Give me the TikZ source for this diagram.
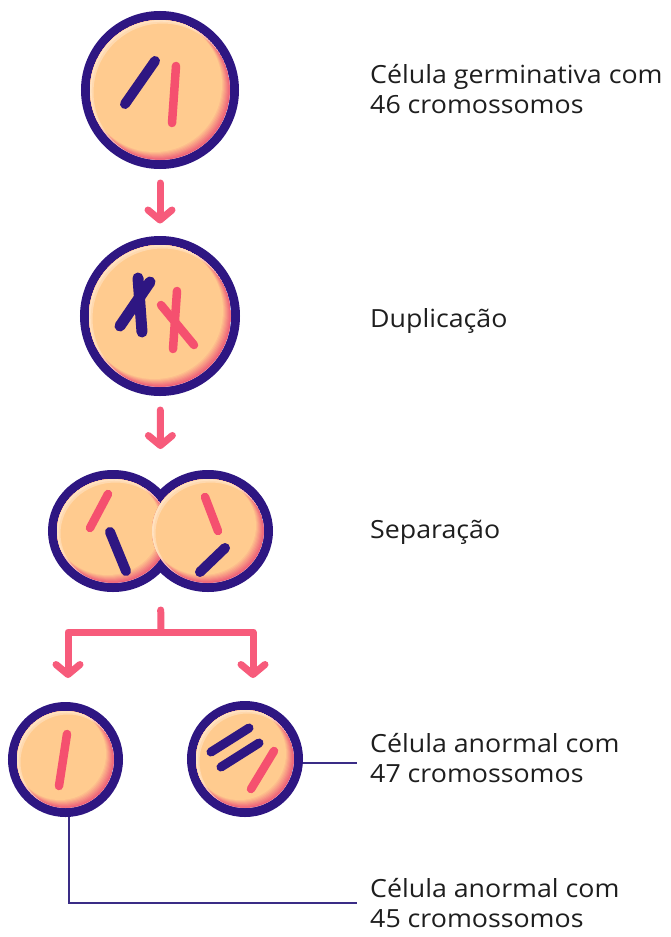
\documentclass[tikz,border=0pt]{standalone}
\usepackage{fontspec}
\setmainfont{Open Sans}[FakeStretch=1.07]
\usetikzlibrary{calc,arrows.meta,shapes.geometric}

\definecolor{indigo}{HTML}{2E1682}
\definecolor{chromred}{HTML}{F5506F}
\definecolor{peach}{HTML}{FFCB8F}
\definecolor{peachlight}{HTML}{FFEBD6}
\definecolor{rimpink}{HTML}{EE5F78}
\definecolor{arrowpink}{HTML}{F75B7B}
\definecolor{leadercol}{HTML}{3A2C86}
\definecolor{textcol}{HTML}{1E1E1E}

\pgfdeclarelayer{bg}
\pgfsetlayers{bg,main}

% shaded cytoplasm inside the outline (x, y, x radius, y radius of the inner edge):
% a soft pink rim towards the lower right and a light rim towards the upper left
\newcommand\cellinside[4]{%
  \begin{scope}
    \clip (#1,#2) ellipse [x radius=#3pt, y radius=#4pt];
    \foreach \k in {0,...,8}{%
      \pgfmathsetmacro\mix{\k*12.5}%
      \fill[peach!\mix!rimpink] ($(#1,#2)+(-0.7*\k,-0.7*\k)$)
        ellipse [x radius=#3pt-0.3pt*\k, y radius=#4pt-0.3pt*\k];
    }
    \fill[peachlight, opacity=0.45, even odd rule]
      (#1,#2) ellipse [x radius=#3pt, y radius=#4pt]
      ($(#1,#2)+(2.5,2.5)$) ellipse [x radius=#3pt-1pt, y radius=#4pt-1pt];
    \fill[peachlight, opacity=0.45, even odd rule]
      (#1,#2) ellipse [x radius=#3pt, y radius=#4pt]
      ($(#1,#2)+(1.2,1.2)$) ellipse [x radius=#3pt-0.5pt, y radius=#4pt-0.5pt];
  \end{scope}}

\newcommand\twolines[2]{\begin{tabular}[t]{@{}l@{}}#1\\#2\end{tabular}}

\tikzset{
  cellrim/.style={draw=indigo, line width=9pt, inner sep=0pt},
  chromoB/.style={draw=indigo, line width=10pt, line cap=round},
  chromoR/.style={draw=chromred, line width=8.5pt, line cap=round},
  flowarrow/.style={draw=arrowpink, line width=7pt, line cap=round, line join=round,
    -{Straight Barb[length=10pt, width=24pt, round]}},
  flowline/.style={draw=arrowpink, line width=7pt, line cap=round, line join=round},
  leaderln/.style={draw=leadercol, line width=2pt},
  lbl/.style={anchor=base west, inner sep=0pt, text=textcol,
    font=\fontsize{25}{30.5}\selectfont},
}

\begin{document}
\begin{tikzpicture}[x=1pt,y=-1pt]
\useasboundingbox (0,0) rectangle (671,937);
\begin{pgfonlayer}{bg}
  \fill[white] (0,0) rectangle (671,937);
\end{pgfonlayer}

% germ cell
\node[cellrim, circle, minimum size=149pt] (c1) at (160,90) {};
\cellinside{160}{90}{70}{70}
\draw[chromoB] (125,104) -- (155,61);
\draw[chromoR] (176,66) -- (172,123);

% duplicated chromosomes
\node[cellrim, circle, minimum size=151pt] (c2) at (160,316) {};
\cellinside{160}{316}{71}{71}
\draw[chromoB, line width=11pt] (138,278) -- (142,332);
\draw[chromoB, line width=11pt] (150,282) -- (120,326);
\draw[chromoR] (177,291) -- (173,349);
\draw[chromoR] (161,305) -- (194,345);

% dividing cell
\node[cellrim, ellipse, minimum width=121pt, minimum height=113pt] (sepL) at (113,531) {};
\node[cellrim, ellipse, minimum width=121pt, minimum height=113pt] (sepR) at (208,531) {};
\cellinside{113}{531}{56}{52}
\cellinside{208}{531}{56}{52}
\draw[chromoR] (108,494) -- (90,528);
\draw[chromoB] (110,532) -- (126,571);
\draw[chromoR] (205,497) -- (218,531);
\draw[chromoB] (225,548) -- (200,572);

% daughter cells
\node[cellrim, circle, minimum size=106pt] (c3) at (65.5,759.5) {};
\cellinside{65.5}{759.5}{48.5}{48.5}
\draw[chromoR] (67,734) -- (59,786);

\node[cellrim, circle, minimum size=107pt] (c4) at (245,759) {};
\cellinside{245}{759}{49}{49}
\draw[chromoB, line width=9pt] (211,752) -- (249,728);
\draw[chromoB, line width=9pt] (221,767) -- (259,743);
\draw[chromoR] (274,751) -- (251,789);

% arrows
\draw[flowarrow, shorten <=14pt, shorten >=12.5pt] (c1) -- (c2);
\coordinate (septop) at ($(sepL.north)!.5!(sepR.north)$);
\coordinate (sepbot) at ($(sepL.south)!.5!(sepR.south)$);
\draw[flowarrow, shorten <=14pt, shorten >=21pt] (c2) -- (septop);
\coordinate (fork) at (161,632);
\coordinate (tipL) at (68,678);
\coordinate (tipR) at (253,678);
\draw[flowline, shorten <=18pt] (sepbot) -- (fork);
\draw[flowarrow] (fork) -| (tipL);
\draw[flowarrow] (fork) -| (tipR);

% labels
\node[lbl] (lab1) at (370,83) {\twolines{Célula germinativa com}{46 cromossomos}};
\node[lbl] (lab2) at (370,327) {Duplicação};
\node[lbl] (lab3) at (370,538) {Separação};
\node[lbl] (lab47) at (370,752) {\twolines{Célula anormal com}{47 cromossomos}};
\node[lbl] (lab45) at (370,897) {\twolines{Célula anormal com}{45 cromossomos}};

% leader lines
\coordinate (end47) at (357,763);
\coordinate (elbow45) at (69,903);
\coordinate (end45) at (357,903);
\begin{pgfonlayer}{bg}
  \draw[leaderln] (c4.center |- end47) -- (end47);
  \draw[leaderln] (elbow45 |- c3.center) -- (elbow45) -- (end45);
\end{pgfonlayer}
\end{tikzpicture}
\end{document}
